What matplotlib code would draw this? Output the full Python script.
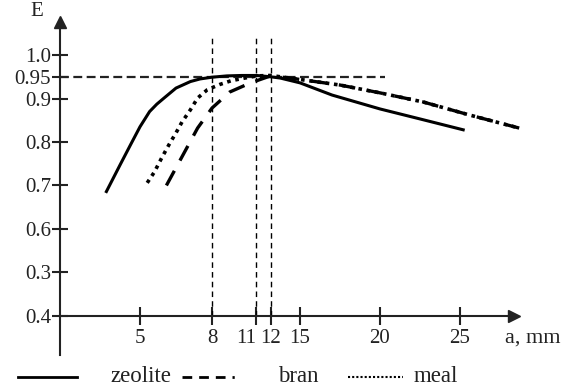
import matplotlib
matplotlib.use("Agg")
import matplotlib.pyplot as plt
import numpy as np
from matplotlib.lines import Line2D

# efficiency E against gap a (mm) for three materials
zeolite_a = [2.9, 3.75, 4.4, 5.0, 5.4, 5.7, 6.0, 6.5, 7.1, 7.5, 8.0, 9.0, 10.0, 11.0, 12.0, 13.0, 15.0,
             17.0, 20.0, 22.5, 25.2]
zeolite_e = [0.686, 0.747, 0.793, 0.835, 0.870, 0.887, 0.901, 0.924, 0.939, 0.945, 0.949, 0.952, 0.953,
             0.953, 0.950, 0.947, 0.936, 0.908, 0.876, 0.853, 0.828]

bran_a = [6.1, 6.75, 7.4, 8.0, 9.2, 10.6, 12.0, 14.0, 17.5, 20.0, 22.7, 25.6, 28.7]
bran_e = [0.700, 0.766, 0.832, 0.878, 0.915, 0.936, 0.952, 0.947, 0.931, 0.913, 0.892, 0.862, 0.832]

meal_a = [5.3, 5.6, 5.9, 6.2, 6.5, 6.75, 7.1, 7.4, 7.8, 8.5, 9.3, 10.2, 11.0, 12.0, 14.0, 17.5, 20.0,
          22.7, 25.6, 28.7]
meal_e = [0.706, 0.731, 0.763, 0.793, 0.821, 0.846, 0.874, 0.901, 0.920, 0.932, 0.941, 0.947, 0.952,
          0.953, 0.947, 0.931, 0.913, 0.892, 0.862, 0.832]

optimum_a = [8, 11, 12]
target_e = 0.95
target_end_a = 20.3

x_ticks = [5, 8, 11, 12, 15, 20, 25]
y_ticks = [0.4, 0.5, 0.6, 0.7, 0.8, 0.9, 0.95, 1.0]
y_tick_labels = ["0.4", "0.3", "0.6", "0.7", "0.8", "0.9", "0.95", "1.0"]

# the a-axis is hand spaced: the ticks 8, 11 and 12 sit away from a linear grid
A_KNOTS = [0, 5, 8, 11, 12, 15, 40]
POS_KNOTS = [0, 5, 9.5, 12.28, 13.16, 15, 40]


def to_pos(x):
    return np.interp(x, A_KNOTS, POS_KNOTS)


def to_a(x):
    return np.interp(x, POS_KNOTS, A_KNOTS)


plt.rcParams["font.family"] = ["Liberation Serif", "DejaVu Serif"]
INK = "#222222"

fig = plt.figure(figsize=(5.65, 3.89), dpi=100)
ax = fig.add_axes([60 / 565, 34 / 389, 454 / 565, 333 / 389])
ax.set_xscale("function", functions=(to_pos, to_a))
ax.set_xlim(0, 28.375)
ax.set_ylim(0.31, 1.076)

for side in ("top", "right"):
    ax.spines[side].set_visible(False)
ax.spines["left"].set_position(("data", 0))
ax.spines["bottom"].set_position(("data", 0.4))
for side in ("left", "bottom"):
    ax.spines[side].set_color(INK)
    ax.spines[side].set_linewidth(1.5)

# arrow heads on both axes
ax.plot(1, 0.4, ">", color=INK, ms=9, transform=ax.get_yaxis_transform(), clip_on=False)
ax.plot(0, 1, "^", color=INK, ms=9, transform=ax.get_xaxis_transform(), clip_on=False)

ax.set_xticks(x_ticks)
ax.set_xticklabels([str(t) for t in x_ticks])
ax.set_yticks(y_ticks)
ax.set_yticklabels(y_tick_labels)
ax.tick_params(axis="y", direction="inout", length=11, width=1.5, color=INK,
               labelsize=15, labelcolor=INK, pad=1)
ax.tick_params(axis="x", direction="inout", length=13, width=1.5, color=INK,
               labelsize=15, labelcolor=INK, pad=3)
for label in ax.get_xticklabels():
    if label.get_text() == "11":
        label.set_horizontalalignment("right")

# reference lines for the optimum gaps and the target efficiency
ax.vlines(optimum_a, 0.4, 1.039, colors="black", linestyles=(0, (4, 3)), linewidth=1.0)
ax.hlines(target_e, 0, target_end_a, colors=INK, linestyles=(0, (4, 2)), linewidth=1.6)

ax.plot(zeolite_a, zeolite_e, color="black", linewidth=2.2, clip_on=False)
ax.plot(bran_a, bran_e, color="black", linewidth=2.4, linestyle=(0, (5, 3.5)), clip_on=False)
ax.plot(meal_a, meal_e, color="black", linewidth=2.6, linestyle=(0, (1, 1.3)), clip_on=False)

fig.text(37 / 565, 1 - 12 / 389, "E", fontsize=15, color=INK, ha="center", va="center")
fig.text(505 / 565, 1 - 338 / 389, "a, mm", fontsize=16, color=INK, ha="left", va="center")

# legend row along the bottom edge
legend_y = 1 - 377 / 389
fig.add_artist(Line2D([18 / 565, 77 / 565], [legend_y, legend_y], color="black", linewidth=2.0))
fig.add_artist(Line2D([182 / 565, 236 / 565], [legend_y, legend_y], color="black", linewidth=2.0,
                      linestyle=(0, (3.5, 2.5, 3.5, 2.5, 3.5, 2.5, 0.8, 10))))
fig.add_artist(Line2D([348 / 565, 403 / 565], [legend_y, legend_y], color="black", linewidth=1.5,
                      linestyle=(0, (1, 1))))
fig.text(110 / 565, legend_y, "zeolite", fontsize=16.5, color=INK, ha="left", va="center")
fig.text(278 / 565, legend_y, "bran", fontsize=16.5, color=INK, ha="left", va="center")
fig.text(414 / 565, legend_y, "meal", fontsize=16.5, color=INK, ha="left", va="center")

fig.savefig("out.png", dpi=100)
